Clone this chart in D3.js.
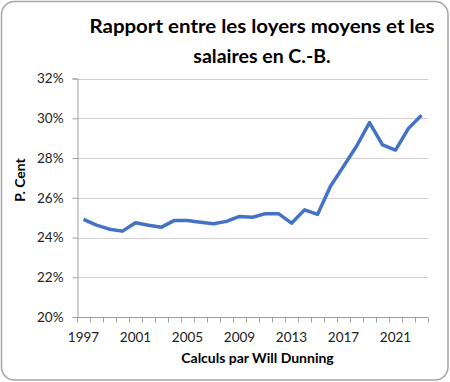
<!DOCTYPE html>
<html><head><meta charset="utf-8">
<script src="https://cdn.jsdelivr.net/npm/d3@7"></script>
<style>html,body{margin:0;padding:0;background:#fff;}svg{display:block;}</style>
</head><body>
<script>
const years = [1997,1998,1999,2000,2001,2002,2003,2004,2005,2006,2007,2008,2009,2010,2011,2012,2013,2014,2015,2016,2017,2018,2019,2020,2021,2022,2023];
const ratio = [24.91,24.62,24.42,24.32,24.74,24.62,24.52,24.86,24.86,24.77,24.69,24.81,25.06,25.02,25.2,25.2,24.72,25.39,25.16,26.58,27.58,28.59,29.78,28.66,28.4,29.49,30.15];
const yTicks = [20,22,24,26,28,30,32];
const xLabels = [1997,2001,2005,2009,2013,2017,2021];
const titleLines = ["Rapport entre les loyers moyens et les","salaires en C.-B."];
const yTitle = "P. Cent";
const xTitle = "Calculs par Will Dunning";

(function(){
const W=450,H=382;
const font = "Lato, 'Open Sans', sans-serif";
const svg = d3.select("body").append("svg").attr("width",W).attr("height",H);
svg.append("rect").attr("x",1.5).attr("y",1.5).attr("width",446.5).attr("height",378.5)
  .attr("rx",13).attr("fill","#fff").attr("stroke","#a6a6a6").attr("stroke-width",1.5);

const pL=77,pR=428,pT=78.5,pB=317;
const x = d3.scaleBand().domain(years).range([pL,pR]);
const y = d3.scaleLinear().domain([20,32]).range([pB,pT]);

// gridlines
svg.append("g").selectAll("line").data(yTicks.filter(d=>d>20)).join("line")
  .attr("x1",pL).attr("x2",pR).attr("y1",d=>Math.round(y(d))+0.5).attr("y2",d=>Math.round(y(d))+0.5)
  .attr("stroke","#d0d0d0").attr("stroke-width",1.2);

// y axis
const yAx = svg.append("g").attr("transform",`translate(${pL+0.5},0)`)
  .call(d3.axisLeft(y).tickValues(yTicks).tickSize(5).tickPadding(9).tickFormat(d=>d+"%"));
yAx.select(".domain").attr("stroke","#a0a0a0");
yAx.selectAll(".tick line").attr("stroke","#a0a0a0");
yAx.selectAll("text").attr("font-family",font).attr("font-size",13.5).attr("fill","#222");

// x axis
const xg = svg.append("g").attr("transform",`translate(0,${Math.round(pB)+0.5})`);
xg.append("line").attr("x1",pL).attr("x2",pR).attr("stroke","#a0a0a0");
const bounds = years.map(d=>x(d)).concat([pR]);
xg.selectAll("line.tk").data(bounds).join("line").attr("class","tk")
  .attr("x1",d=>Math.round(d)+0.5).attr("x2",d=>Math.round(d)+0.5).attr("y1",0).attr("y2",5).attr("stroke","#a0a0a0");
xg.selectAll("text").data(xLabels).join("text")
  .attr("x",d=>x(d)+x.bandwidth()/2).attr("y",24.5).attr("text-anchor","middle")
  .attr("font-family",font).attr("font-size",13.5).attr("fill","#222").text(d=>d);

// line
const line = d3.line().x((d,i)=>x(years[i])+x.bandwidth()/2).y(d=>y(d));
svg.append("path").datum(ratio).attr("d",line).attr("fill","none")
  .attr("stroke","#4472C4").attr("stroke-width",3.5).attr("stroke-linejoin","round");

// titles
svg.append("text").attr("x",262).attr("y",33).attr("text-anchor","middle")
  .attr("font-family",font).attr("font-weight","bold").attr("font-size",19.5).attr("fill","#000")
  .attr("textLength",345).attr("lengthAdjust","spacingAndGlyphs").text(titleLines[0]);
svg.append("text").attr("x",262).attr("y",63).attr("text-anchor","middle")
  .attr("font-family",font).attr("font-weight","bold").attr("font-size",19.5).attr("fill","#000")
  .text(titleLines[1]);
svg.append("text").attr("transform","translate(25,180) rotate(-90)").attr("text-anchor","middle")
  .attr("font-family",font).attr("font-weight","bold").attr("font-size",14).attr("fill","#000").text(yTitle);
svg.append("text").attr("x",257.5).attr("y",363).attr("text-anchor","middle")
  .attr("font-family",font).attr("font-weight","bold").attr("font-size",14).attr("fill","#000").text(xTitle);
})();
</script>
</body></html>
